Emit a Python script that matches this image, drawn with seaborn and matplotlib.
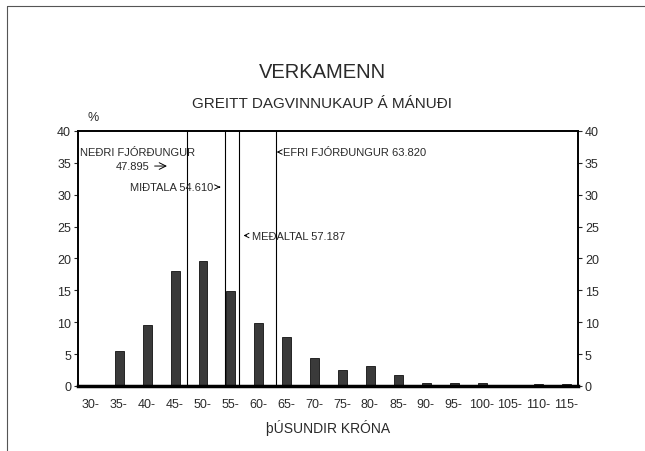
import numpy as np
import pandas as pd
import matplotlib
matplotlib.use('Agg')
import matplotlib.pyplot as plt
from matplotlib.lines import Line2D
import seaborn as sns

# wage bins (thousand kr, lower edge) and share of workers in %
bins = [30, 35, 40, 45, 50, 55, 60, 65, 70, 75, 80, 85, 90, 95, 100, 105, 110, 115]
pct = [0, 5.4, 9.6, 18.0, 19.6, 14.9, 9.8, 7.7, 4.4, 2.5, 3.2, 1.7, 0.4, 0.5, 0.45, 0.1, 0.25, 0.25]
tick_labels = [f"{b}-" for b in bins]

# summary statistics drawn as vertical lines
lower_q = 47.895
median = 54.610
mean = 57.187
upper_q = 63.820

df = pd.DataFrame({'bin': [b + 0.75 for b in bins], 'pct': pct})

sns.set_theme(style='white')
plt.rcParams['font.family'] = ['Liberation Sans', 'DejaVu Sans']

txt = '#2a2a2a'
fig = plt.figure(figsize=(6.45, 4.52), dpi=100)
ax = fig.add_axes([0.121, 0.144, 0.775, 0.564])

sns.barplot(data=df, x='bin', y='pct', native_scale=True, width=0.32,
            color='#3a3a3a', edgecolor='#111111', linewidth=0.6, ax=ax)

ax.set_xlim(28.4, 117.8)
ax.set_ylim(0, 40)
ax.set_xticks([b + 0.6 for b in bins])
ax.set_xticklabels(tick_labels, fontsize=9, color=txt)
ax.set_yticks(range(0, 41, 5))
ax.tick_params(axis='x', length=0, pad=9)
ax.tick_params(axis='y', direction='out', length=3, width=0.8, labelsize=9, labelcolor=txt,
               left=True, right=True, labelleft=True, labelright=True, pad=2)
for side, sp in ax.spines.items():
    sp.set_visible(True)
    sp.set_color('black')
    sp.set_linewidth(1.4)
ax.spines['bottom'].set_linewidth(2.5)
ax.set_xlabel('þÚSUNDIR KRÓNA', fontsize=10, labelpad=6, color=txt)
ax.set_ylabel('')

for v in [lower_q, median, mean, upper_q]:
    ax.axvline(v, color='black', linewidth=0.8)

ax.text(28.7, 36.7, 'NEÐRI FJÓRÐUNGUR', fontsize=8, va='center', ha='left', color=txt)
ax.text(38.2, 34.5, '47.895', fontsize=8, va='center', ha='center', color=txt)
ax.annotate('', xy=(44.8, 34.5), xytext=(41.6, 34.5),
            arrowprops=dict(arrowstyle='->', color='black', lw=0.7))
ax.annotate('MIÐTALA 54.610', xy=(median - 0.3, 31.2), xytext=(52.6, 31.2),
            fontsize=8, va='center', ha='right', color=txt,
            arrowprops=dict(arrowstyle='->', color='black', lw=0.7))
ax.annotate('MEÐALTAL 57.187', xy=(mean + 0.3, 23.6), xytext=(59.6, 23.6),
            fontsize=8, va='center', ha='left', color=txt,
            arrowprops=dict(arrowstyle='->', color='black', lw=0.7))
ax.annotate('EFRI FJÓRÐUNGUR 63.820', xy=(upper_q + 0.1, 36.7), xytext=(65.0, 36.7),
            fontsize=8, va='center', ha='left', color=txt,
            arrowprops=dict(arrowstyle='->', color='black', lw=0.7))

ax.text(0.03, 1.03, '%', transform=ax.transAxes, fontsize=9, ha='center', va='bottom', color=txt)

fig.text(0.5, 0.84, 'VERKAMENN', fontsize=14.5, ha='center', va='center', color=txt)
fig.text(0.5, 0.77, 'GREITT DAGVINNUKAUP Á MÁNUÐI', fontsize=11, ha='center', va='center',
         color=txt)

# page edge lines
fig.add_artist(Line2D([0.011, 1.0], [0.985, 0.985], transform=fig.transFigure,
                      color='#555555', linewidth=0.8))
fig.add_artist(Line2D([0.011, 0.011], [0.0, 0.985], transform=fig.transFigure,
                      color='#555555', linewidth=0.8))

fig.savefig('out.png', dpi=100)
